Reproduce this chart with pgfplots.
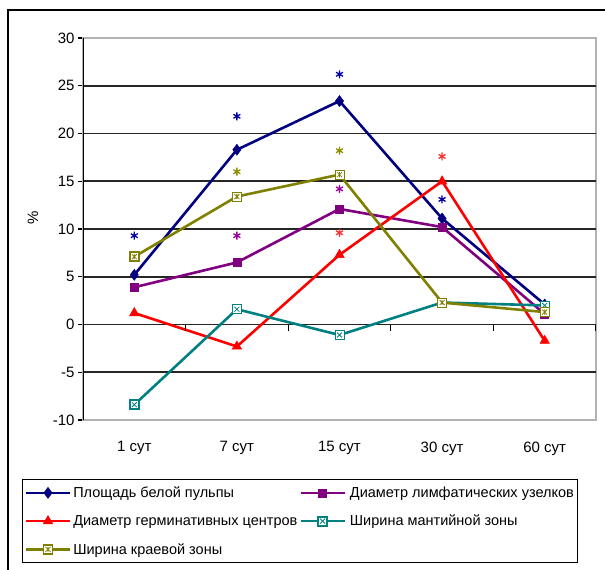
\documentclass[border=0pt]{standalone}
\usepackage{pgfplots}
\pgfplotsset{compat=1.18}
\usepackage{fontspec}
\setmainfont{Liberation Sans}
\definecolor{cnavy}{HTML}{000080}
\definecolor{cpurple}{HTML}{800080}
\definecolor{cred}{HTML}{FF0000}
\definecolor{cteal}{HTML}{008080}
\definecolor{colive}{HTML}{808000}
\pgfdeclareplotmark{boxx}{%
  \pgfpathrectangle{\pgfpoint{-\pgfplotmarksize}{-\pgfplotmarksize}}{\pgfpoint{2\pgfplotmarksize}{2\pgfplotmarksize}}%
  \pgfusepathqfillstroke
  \pgfsetlinewidth{0.8pt}%
  \pgfpathmoveto{\pgfpoint{-0.55\pgfplotmarksize}{-0.55\pgfplotmarksize}}%
  \pgfpathlineto{\pgfpoint{0.55\pgfplotmarksize}{0.55\pgfplotmarksize}}%
  \pgfpathmoveto{\pgfpoint{-0.55\pgfplotmarksize}{0.55\pgfplotmarksize}}%
  \pgfpathlineto{\pgfpoint{0.55\pgfplotmarksize}{-0.55\pgfplotmarksize}}%
  \pgfusepathqstroke
}
\pgfdeclareplotmark{boxstar}{%
  \pgfpathrectangle{\pgfpoint{-\pgfplotmarksize}{-\pgfplotmarksize}}{\pgfpoint{2\pgfplotmarksize}{2\pgfplotmarksize}}%
  \pgfusepathqfillstroke
  \pgfsetlinewidth{0.8pt}%
  \pgfpathmoveto{\pgfpoint{-0.55\pgfplotmarksize}{-0.55\pgfplotmarksize}}%
  \pgfpathlineto{\pgfpoint{0.55\pgfplotmarksize}{0.55\pgfplotmarksize}}%
  \pgfpathmoveto{\pgfpoint{-0.55\pgfplotmarksize}{0.55\pgfplotmarksize}}%
  \pgfpathlineto{\pgfpoint{0.55\pgfplotmarksize}{-0.55\pgfplotmarksize}}%
  \pgfpathmoveto{\pgfpoint{0pt}{-0.6\pgfplotmarksize}}%
  \pgfpathlineto{\pgfpoint{0pt}{0.6\pgfplotmarksize}}%
  \pgfusepathqstroke
}
\begin{document}
\begin{tikzpicture}
\begin{axis}[
  at={(83pt,-420pt)}, anchor=south west,
  scale only axis, width=513pt, height=382pt,
  xmin=-0.5, xmax=4.5, ymin=-10, ymax=30,
  xtick={0,1,2,3,4},
  xticklabels={1 сут,7 сут,15 сут,30 сут,60 сут},
  xtick pos=bottom, x tick style={draw=none},
  xticklabel style={yshift=-13pt},
  ytick={-10,-5,...,30}, ytick pos=left,
  y tick style={black, line width=1.2pt}, tick align=outside, major tick length=5pt,
  extra y ticks={-5,0,5,10,15,20,25}, extra y tick labels={},
  extra y tick style={grid=major, major tick length=0pt},
  major grid style={black!85, line width=1.8pt},
  axis line style={draw=gray!60, line width=1.4pt},
  tick label style={font=\fontsize{15}{18}\selectfont},
  /pgf/number format/assume math mode=true,
  ylabel={\%}, ylabel style={font=\fontsize{15}{18}\selectfont, at={(axis description cs:-0.0975,0.53)}, anchor=center},
  legend columns=2,
  legend cell align=left,
  legend style={at={(axis description cs:-0.1189,-0.1545)}, anchor=north west,
    draw=black, line width=1.4pt, font=\fontsize{14.5}{17}\selectfont,
    inner xsep=2pt, inner ysep=5pt, row sep=12pt,
    /tikz/column 3/.style={column sep=2pt}},
  legend image code/.code={\draw[mark repeat=2,mark phase=2,#1] plot coordinates {(0pt,0pt)(22pt,0pt)(44pt,0pt)};},
  every axis plot/.append style={line width=2.6pt},
]
\addplot[cnavy, mark=diamond*, mark size=5.5pt, mark options={solid, line width=0.5pt}] coordinates {(0,5.2)(1,18.3)(2,23.4)(3,11.1)(4,2.1)};
\addlegendentry{Площадь белой пульпы}
\addplot[cpurple, mark=square*, mark size=4pt, mark options={solid, line width=0.5pt}] coordinates {(0,3.9)(1,6.5)(2,12.1)(3,10.2)(4,1.1)};
\addlegendentry{Диаметр лимфатических узелков}
\addplot[cred, mark=triangle*, mark size=5.5pt, mark options={solid, line width=0.5pt}] coordinates {(0,1.2)(1,-2.3)(2,7.3)(3,15.0)(4,-1.7)};
\addlegendentry{Диаметр герминативных центров}
\addplot[cteal, mark=boxx, mark size=4.5pt, mark options={solid, fill=white, line width=1.8pt}] coordinates {(0,-8.4)(1,1.6)(2,-1.1)(3,2.3)(4,2.0)};
\addlegendentry{Ширина мантийной зоны}
\addplot[colive, mark=boxstar, mark size=4.5pt, mark options={solid, fill=white, line width=1.8pt}] coordinates {(0,7.1)(1,13.4)(2,15.7)(3,2.3)(4,1.3)};
\addlegendentry{Ширина краевой зоны}
% significance asterisks
\addplot[forget plot, only marks, cnavy!70!blue, mark=asterisk, mark size=4pt, line width=1.3pt] coordinates {(0,9.3)(1,21.8)(2,26.2)(3,13.1)};
\addplot[forget plot, only marks, colive!90!yellow, mark=asterisk, mark size=4pt, line width=1.3pt] coordinates {(1,16.0)(2,18.2)};
\addplot[forget plot, only marks, cpurple!80!magenta, mark=asterisk, mark size=4pt, line width=1.3pt] coordinates {(1,9.3)(2,14.2)};
\addplot[forget plot, only marks, cred!80!white, mark=asterisk, mark size=4pt, line width=1.3pt] coordinates {(2,9.6)(3,17.6)};
% left axis line and zero-line ticks
\draw[black, line width=1.6pt] (axis cs:-0.5,-10) -- (axis cs:-0.5,30);
\pgfplotsinvokeforeach{0.5,1.5,2.5,3.5,4.5}{\draw[black, line width=1.2pt] (axis cs:#1,0) -- ++(0pt,-6pt);}
\end{axis}
\draw[black, line width=1.6pt] (8pt,-590pt) -- (8pt,-10pt) -- (620pt,-10pt);
\pgfresetboundingbox
\path[use as bounding box] (0pt,0pt) rectangle (605pt,-570pt);
\end{tikzpicture}
\end{document}
